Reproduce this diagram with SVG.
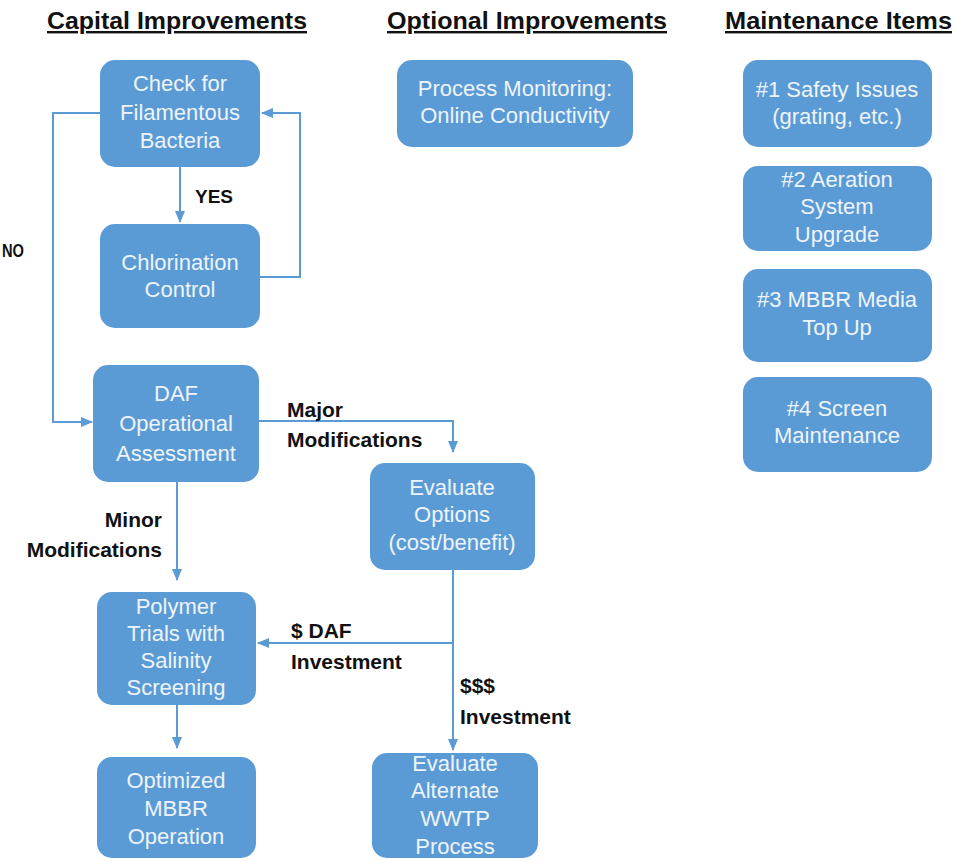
<svg xmlns="http://www.w3.org/2000/svg" width="957" height="861" viewBox="0 0 957 861">
<style>
.box{fill:#5B9BD5}
.nt{font-family:"Liberation Sans",Arial,sans-serif;font-size:22px;fill:#EEF4FB;text-anchor:middle}
.lb{font-family:"Liberation Sans",Arial,sans-serif;font-size:21px;font-weight:bold;fill:#111}
.tt{font-family:"Liberation Sans",Arial,sans-serif;font-size:24px;font-weight:bold;fill:#111;text-decoration:underline}
.cn{fill:none;stroke:#5B9BD5;stroke-width:2;marker-end:url(#ah)}
</style>
<defs>
<marker id="ah" markerUnits="userSpaceOnUse" markerWidth="12" markerHeight="12" viewBox="0 0 12 12" refX="11" refY="6" orient="auto">
<path d="M0,1 L12,6 L0,11 Z" fill="#5B9BD5"/>
</marker>
</defs>
<rect width="957" height="861" fill="#fff"/>
<g id="titles">
<text class="tt" x="47" y="29" textLength="260" lengthAdjust="spacingAndGlyphs">Capital Improvements</text>
<text class="tt" x="387" y="29" textLength="280" lengthAdjust="spacingAndGlyphs">Optional Improvements</text>
<text class="tt" x="725" y="29" textLength="227" lengthAdjust="spacingAndGlyphs">Maintenance Items</text>
</g>
<g id="connectors">
<path class="cn" d="M100,113 H53 V422 H92"/>
<path class="cn" d="M260,277 H300 V113 H262"/>
<path class="cn" d="M180,167 V222"/>
<path class="cn" d="M259,421 H453 V452"/>
<path class="cn" d="M177,482 V580"/>
<path class="cn" d="M453,570 V750"/>
<path class="cn" d="M453,643 H258"/>
<path class="cn" d="M177,705 V748"/>
</g>
<g id="labels">
<text class="lb" x="195" y="203" style="font-size:19px">YES</text>
<text class="lb" x="2" y="257" style="font-size:18px" textLength="22" lengthAdjust="spacingAndGlyphs">NO</text>
<text class="lb" x="162" y="527" text-anchor="end">Minor</text>
<text class="lb" x="162" y="557" text-anchor="end">Modifications</text>
<text class="lb" x="287" y="417">Major</text>
<text class="lb" x="287" y="447">Modifications</text>
<text class="lb" x="291" y="638">$ DAF</text>
<text class="lb" x="291" y="669">Investment</text>
<text class="lb" x="460" y="693">$$$</text>
<text class="lb" x="460" y="724">Investment</text>
</g>
<g id="n-check"><rect class="box" x="100" y="60" width="160" height="107" rx="15"/>
<text class="nt" x="180" y="91">Check for</text><text class="nt" x="180" y="120">Filamentous</text><text class="nt" x="180" y="148">Bacteria</text></g>
<g id="n-chlor"><rect class="box" x="100" y="224" width="160" height="104" rx="15"/>
<text class="nt" x="180" y="270">Chlorination</text><text class="nt" x="180" y="297">Control</text></g>
<g id="n-daf"><rect class="box" x="93" y="365" width="166" height="117" rx="15"/>
<text class="nt" x="176" y="401">DAF</text><text class="nt" x="176" y="431">Operational</text><text class="nt" x="176" y="461">Assessment</text></g>
<g id="n-polymer"><rect class="box" x="97" y="592" width="159" height="113" rx="15"/>
<text class="nt" x="176" y="614">Polymer</text><text class="nt" x="176" y="641">Trials with</text><text class="nt" x="176" y="668">Salinity</text><text class="nt" x="176" y="695">Screening</text></g>
<g id="n-optim"><rect class="box" x="97" y="757" width="159" height="101" rx="15"/>
<text class="nt" x="176" y="788">Optimized</text><text class="nt" x="176" y="816">MBBR</text><text class="nt" x="176" y="844">Operation</text></g>
<g id="n-evalopt"><rect class="box" x="370" y="463" width="165" height="107" rx="15"/>
<text class="nt" x="452" y="495">Evaluate</text><text class="nt" x="452" y="522">Options</text><text class="nt" x="452" y="550">(cost/benefit)</text></g>
<g id="n-evalalt"><rect class="box" x="372" y="753" width="166" height="105" rx="15"/>
<text class="nt" x="455" y="771">Evaluate</text><text class="nt" x="455" y="798">Alternate</text><text class="nt" x="455" y="826">WWTP</text><text class="nt" x="455" y="854">Process</text></g>
<g id="n-monitor"><rect class="box" x="397" y="60" width="236" height="87" rx="15"/>
<text class="nt" x="515" y="96">Process Monitoring:</text><text class="nt" x="515" y="123">Online Conductivity</text></g>
<g id="n-m1"><rect class="box" x="743" y="60" width="189" height="87" rx="15"/>
<text class="nt" x="837" y="97">#1 Safety Issues</text><text class="nt" x="837" y="124">(grating, etc.)</text></g>
<g id="n-m2"><rect class="box" x="743" y="166" width="189" height="85" rx="15"/>
<text class="nt" x="837" y="187">#2 Aeration</text><text class="nt" x="837" y="214">System</text><text class="nt" x="837" y="242">Upgrade</text></g>
<g id="n-m3"><rect class="box" x="743" y="269" width="189" height="93" rx="15"/>
<text class="nt" x="837" y="307">#3 MBBR Media</text><text class="nt" x="837" y="335">Top Up</text></g>
<g id="n-m4"><rect class="box" x="743" y="377" width="189" height="95" rx="15"/>
<text class="nt" x="837" y="416">#4 Screen</text><text class="nt" x="837" y="443">Maintenance</text></g>
</svg>
